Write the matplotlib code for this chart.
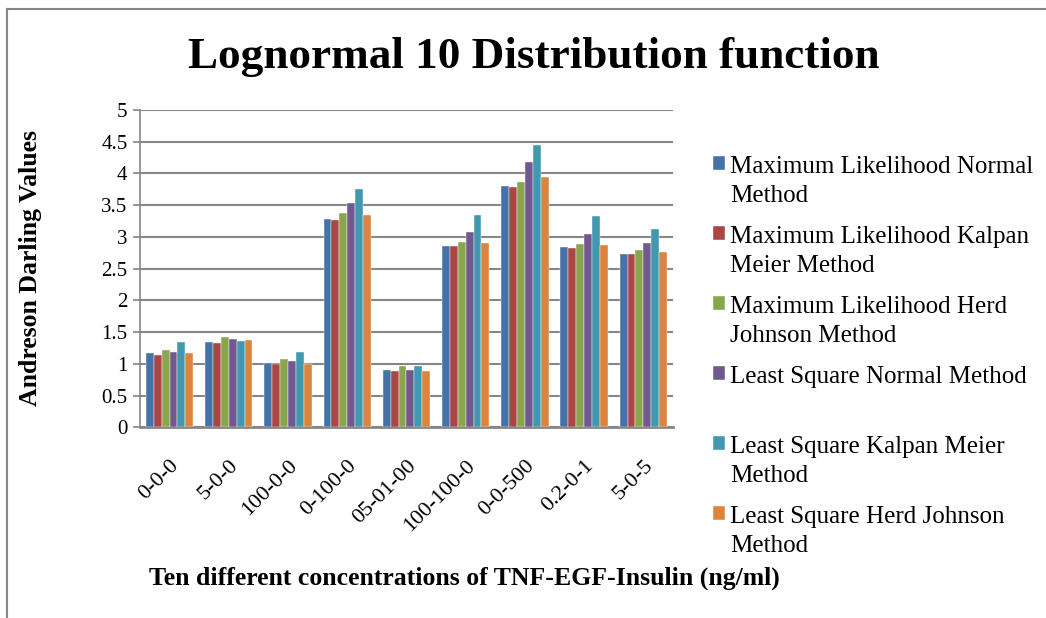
import numpy as np
import matplotlib.pyplot as plt
from matplotlib.lines import Line2D
from matplotlib.patches import Rectangle
from matplotlib.legend_handler import HandlerPatch

# concentrations (TNF-EGF-Insulin)
categories = ["0-0-0", "5-0-0", "100-0-0", "0-100-0", "05-01-00",
              "100-100-0", "0-0-500", "0.2-0-1", "5-0-5"]

series_names = [
    "Maximum Likelihood Normal\nMethod",
    "Maximum Likelihood Kalpan\nMeier Method",
    "Maximum Likelihood Herd\nJohnson Method",
    "Least Square Normal Method\n ",
    "Least Square Kalpan Meier\nMethod",
    "Least Square Herd Johnson\nMethod",
]

ml_normal = [1.17, 1.35, 1.01, 3.29, 0.91, 2.86, 3.81, 2.84, 2.73]
ml_km     = [1.14, 1.33, 1.00, 3.27, 0.88, 2.85, 3.79, 2.83, 2.73]
ml_hj     = [1.22, 1.42, 1.08, 3.37, 0.97, 2.92, 3.86, 2.89, 2.80]
ls_normal = [1.18, 1.39, 1.04, 3.53, 0.91, 3.07, 4.18, 3.04, 2.90]
ls_km     = [1.34, 1.36, 1.18, 3.76, 0.97, 3.34, 4.45, 3.33, 3.12]
ls_hj     = [1.17, 1.37, 1.00, 3.34, 0.88, 2.90, 3.94, 2.87, 2.77]

all_series = [ml_normal, ml_km, ml_hj, ls_normal, ls_km, ls_hj]
colors = ["#4572A7", "#AA4643", "#89A54E", "#71588F", "#4198AF", "#DB843D"]

plt.rcParams["font.family"] = ["Liberation Serif", "DejaVu Serif"]

fig = plt.figure(figsize=(10.46, 6.18), dpi=100)
ax = fig.add_axes([0.1338, 0.3086, 0.5096, 0.5134])

x = np.arange(len(categories))
w = 0.8 / 6
handles = []
for i, (vals, c) in enumerate(zip(all_series, colors)):
    b = ax.bar(x - 0.4 + w * (i + 0.5), vals, width=w, color=c,
               edgecolor="white", linewidth=0.3, zorder=3)
    handles.append(b[0])

ax.set_xlim(-0.5, len(categories) - 0.5)
ax.set_ylim(0, 5)
ax.set_yticks(np.arange(0, 5.01, 0.5))
ax.set_yticklabels(["0", "0.5", "1", "1.5", "2", "2.5", "3", "3.5", "4", "4.5", "5"])
ax.set_xticks(x)
ax.set_xticklabels(categories, rotation=45, ha="right", rotation_mode="anchor")
ax.tick_params(axis="y", labelsize=15, length=5, width=1.2, color="#868686", pad=4)
ax.tick_params(axis="x", labelsize=16, length=0, pad=21)

ax.grid(axis="y", color="#868686", linewidth=1.5, zorder=0)
for s in ["top", "right"]:
    ax.spines[s].set_visible(False)
ax.spines["left"].set_color("#868686")
ax.spines["left"].set_linewidth(1.2)
ax.spines["bottom"].set_color("#868686")
ax.spines["bottom"].set_linewidth(2)

fig.text(0.51, 0.89, "Lognormal 10 Distribution function", ha="center", va="baseline",
         fontsize=32.5, fontweight="bold")
fig.text(0.029, 0.566, "Andreson Darling Values", rotation=90, ha="center", va="center",
         fontsize=18.5, fontweight="bold")
fig.text(0.4436, 0.0647, "Ten different concentrations of TNF-EGF-Insulin (ng/ml)",
         ha="center", va="center", fontsize=18.5, fontweight="bold")


# legend squares sit next to the first line of each label
def top_square(legend, orig_handle, xdescent, ydescent, width, height, fontsize):
    return Rectangle((-xdescent, -ydescent + 0.72 * fontsize), width, height)


leg = fig.legend(handles, series_names, loc="upper left", bbox_to_anchor=(0.672, 0.764),
                 frameon=False, fontsize=18, handlelength=0.48, handleheight=0.48,
                 handletextpad=0.2, labelspacing=0.77, borderaxespad=0,
                 handler_map={Rectangle: HandlerPatch(patch_func=top_square)})
for t in leg.get_texts():
    t.set_linespacing(1.4)

# outer chart border
fig.add_artist(Line2D([0.0067, 0.0067], [0.0, 0.985], color="#868686", lw=1.5))
fig.add_artist(Line2D([0.0067, 1.0], [0.985, 0.985], color="#868686", lw=1.5))

fig.savefig("out.png", dpi=100)
